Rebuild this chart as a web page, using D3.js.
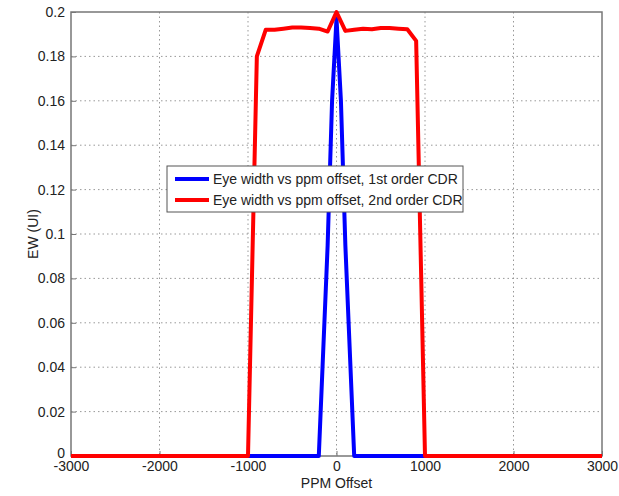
<!DOCTYPE html>
<html>
<head>
<meta charset="utf-8">
<script src="https://cdn.jsdelivr.net/npm/d3@7"></script>
<style>
  body { margin: 0; background: #fff; }
  svg { display: block; font-family: Arial, "Liberation Sans", sans-serif; }
  .grid line { stroke: #999; stroke-dasharray: 1.5 3; }
  .tick text { fill: #222; font-size: 14px; }
</style>
</head>
<body>
<svg id="canvas" width="619" height="496"></svg>
<script>
// x positions (ppm) for the 2nd order curve
var ppm2 = [-3000, -2000, -1100, -1000, -900, -800, -700, -600, -500, -400, -300, -200, -100, 0,
  100, 200, 300, 400, 500, 600, 700, 800, 900, 1000, 1100, 2000, 3000];
var ew2 = [0, 0, 0, 0, 0.18, 0.192, 0.192, 0.1925, 0.193, 0.193, 0.1928, 0.1925, 0.1912, 0.2,
  0.1915, 0.192, 0.1925, 0.1922, 0.1928, 0.1928, 0.1925, 0.1922, 0.187, 0, 0, 0, 0];

// 1st order curve
var ppm1 = [-3000, -1000, -200, -100, -50, 0, 50, 100, 200, 1000, 3000];
var ew1 = [0, 0, 0, 0.095, 0.16, 0.197, 0.16, 0.095, 0, 0, 0];

var xTicks = [-3000, -2000, -1000, 0, 1000, 2000, 3000];
var yTicks = [0, 0.02, 0.04, 0.06, 0.08, 0.1, 0.12, 0.14, 0.16, 0.18, 0.2];

var legendLabels = ["Eye width vs ppm offset, 1st order CDR", "Eye width vs ppm offset, 2nd order CDR"];
var colors = ["#0000ff", "#ff0000"];

var svg = d3.select("#canvas");

var plotL = 71, plotR = 602, plotT = 12, plotB = 456;

var x = d3.scaleLinear().domain([-3000, 3000]).range([plotL, plotR]);
var y = d3.scaleLinear().domain([0, 0.2]).range([plotB, plotT]);

// grid
var grid = svg.append("g").attr("class", "grid");
grid.selectAll(".gx").data(xTicks.slice(1, -1)).enter().append("line")
  .attr("x1", function(d) { return x(d); }).attr("x2", function(d) { return x(d); })
  .attr("y1", plotT).attr("y2", plotB);
grid.selectAll(".gy").data(yTicks.slice(1, -1)).enter().append("line")
  .attr("x1", plotL).attr("x2", plotR)
  .attr("y1", function(d) { return y(d); }).attr("y2", function(d) { return y(d); });

// frame
svg.append("rect")
  .attr("x", plotL).attr("y", plotT)
  .attr("width", plotR - plotL).attr("height", plotB - plotT)
  .attr("fill", "none").attr("stroke", "#777").attr("stroke-width", 1.5);

// axes
var xAxis = svg.append("g")
  .attr("transform", "translate(0," + plotB + ")")
  .call(d3.axisBottom(x).tickValues(xTicks).tickSize(-5).tickPadding(5).tickFormat(function(d) { return String(d); }));
var yAxis = svg.append("g")
  .attr("transform", "translate(" + plotL + ",0)")
  .call(d3.axisLeft(y).tickValues(yTicks).tickSize(-5).tickPadding(6).tickFormat(function(d) { return String(+d.toFixed(2)); }));
svg.selectAll(".domain").remove();
svg.selectAll(".tick line").attr("stroke", "#777");
yAxis.selectAll(".tick text").filter(function(d) { return d === 0; }).attr("dy", "0.1em");

svg.append("text")
  .attr("x", x(0)).attr("y", 488)
  .attr("text-anchor", "middle").attr("font-size", 14).attr("fill", "#222")
  .text("PPM Offset");
svg.append("text")
  .attr("transform", "translate(38," + y(0.1) + ") rotate(-90)")
  .attr("text-anchor", "middle").attr("font-size", 14).attr("fill", "#222")
  .text("EW (UI)");

// lines
var line = d3.line()
  .x(function(d) { return x(d[0]); })
  .y(function(d) { return y(d[1]); });

var series = [d3.zip(ppm1, ew1), d3.zip(ppm2, ew2)];

svg.append("g").selectAll("path")
  .data(series)
  .enter().append("path")
  .attr("d", line)
  .attr("fill", "none")
  .attr("stroke", function(d, i) { return colors[i]; })
  .attr("stroke-width", 4)
  .attr("stroke-linejoin", "round");

// legend
var legend = svg.append("g").attr("transform", "translate(167,166)");
legend.append("rect")
  .attr("width", 296).attr("height", 46)
  .attr("fill", "#fff").attr("stroke", "#555").attr("stroke-width", 1);
legend.selectAll(".item").data(legendLabels).enter().append("g")
  .attr("transform", function(d, i) { return "translate(0," + (13 + i * 21) + ")"; })
  .each(function(d, i) {
    var g = d3.select(this);
    g.append("line").attr("x1", 8).attr("x2", 42).attr("y1", 0).attr("y2", 0)
      .attr("stroke", colors[i]).attr("stroke-width", 4);
    g.append("text").attr("x", 46).attr("y", 5)
      .attr("font-size", 14).attr("fill", "#222").text(d);
  });
</script>
</body>
</html>
